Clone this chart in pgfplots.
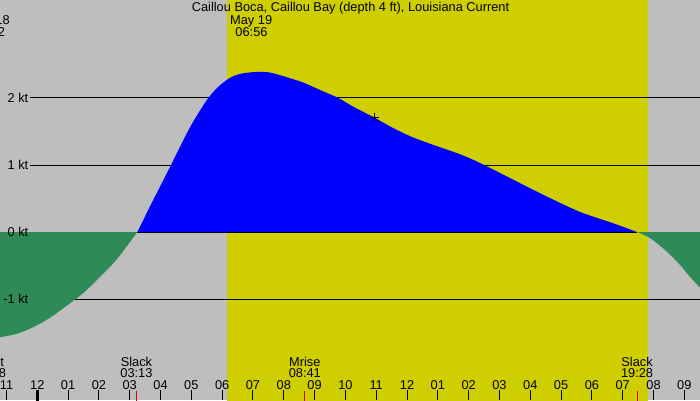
\documentclass[border=0pt]{standalone}
\usepackage{pgfplots}
\pgfplotsset{compat=1.18}
\usepackage{fontspec}
\setmainfont{Liberation Sans}

\definecolor{bg}{RGB}{190,190,190}
\definecolor{day}{RGB}{206,206,0}
\definecolor{flood}{RGB}{0,0,255}
\definecolor{ebb}{RGB}{46,139,87}
\definecolor{evt}{RGB}{220,0,0}
\newcommand\lbl{\fontsize{12.8pt}{15pt}\selectfont}

\begin{document}
\lbl
\begin{tikzpicture}[font=\lbl]
\useasboundingbox (0,0) rectangle (700pt,400pt);
\clip (0,0) rectangle (700pt,400pt);
\begin{axis}[
  at={(0,0)}, anchor=south west,
  scale only axis, width=700pt, height=400pt,
  xmin=-1.2107, xmax=21.509, ymin=-2.5075, ymax=3.4627,
  axis background/.style={fill=bg},
  axis line style={draw=none},
  axis on top, clip=false,
  ytick=\empty,
  xtick={-1,0,...,21},
  xticklabels={11,12,01,02,03,04,05,06,07,08,09,10,11,12,01,02,03,04,05,06,07,08,09},
  xtick pos=left, tick align=inside,
  major tick length=10pt,
  tick style={black, line width=1pt},
  every tick label/.append style={font=\lbl},
  xticklabel style={anchor=base, yshift=10.7pt},
]
% daylight
\addplot[draw=none, fill=day] coordinates {(6.157,-3) (6.157,4) (19.805,4) (19.805,-3)} -- cycle;

% kt lines
\addplot[black, line width=1pt] coordinates {(-0.237,2) (21.6,2)};
\addplot[black, line width=1pt] coordinates {(-0.237,1) (21.6,1)};
\addplot[black, line width=1pt] coordinates {(-0.237,-1) (21.6,-1)};

% flood
\addplot[draw=none, fill=flood, smooth, tension=0.5] coordinates {
 (3.246,0) (3.765,0.48) (4.307,0.97) (4.739,1.37) (5.063,1.65) (5.550,2.0)
 (5.930,2.19) (6.254,2.30) (6.579,2.36) (7.121,2.39) (7.553,2.38) (8.095,2.31) (8.634,2.23)
 (9.176,2.12) (9.770,2.0) (10.256,1.87) (10.928,1.71) (11.555,1.55) (12.204,1.41)
 (12.853,1.30) (13.720,1.16) (14.368,1.03) (15.449,0.78) (16.533,0.53)
 (17.614,0.30) (18.695,0.13) (19.464,0)} \closedcycle;
\addplot[black, line width=1pt] coordinates {(3.246,0) (19.464,0)};

% ebb
\addplot[draw=none, fill=ebb, smooth, tension=0.5] coordinates {
 (-1.60,-1.59) (-1.211,-1.57) (-0.669,-1.52) (-0.130,-1.42) (0.412,-1.28)
 (0.954,-1.10) (1.493,-0.91) (2.035,-0.67) (2.577,-0.41) (3.246,0)} \closedcycle;
\addplot[draw=none, fill=ebb, smooth, tension=0.5] coordinates {
 (19.464,0) (19.886,-0.09) (20.428,-0.29) (20.860,-0.49) (21.184,-0.67)
 (21.509,-0.83) (21.60,-0.88)} \closedcycle;

% marker
\addplot[black, only marks, mark=+, mark size=4.5pt, line width=1pt] coordinates {(10.928,1.71)};

% event ticks
\addplot[black, line width=3pt] coordinates {(0,-2.6) (0,-2.358)};
\addplot[evt, line width=1pt] coordinates {(3.2167,-2.6) (3.2167,-2.369)};
\addplot[evt, line width=1pt] coordinates {(8.6833,-2.6) (8.6833,-2.369)};
\addplot[evt, line width=1pt] coordinates {(19.4667,-2.6) (19.4667,-2.369)};

% texts
\tikzset{txt/.style={inner sep=0pt, font=\lbl}}
\node[txt, anchor=base] at (axis cs:10.166,3.288) {Caillou Boca, Caillou Bay (depth 4 ft), Louisiana Current};
\node[txt, anchor=base west] at (axis cs:6.254,3.090) {May 19};
\node[txt, anchor=base west] at (axis cs:6.426,2.925) {06:56};
\node[txt, anchor=base west] at (axis cs:-2.266,3.090) {May 18};
\node[txt, anchor=base west] at (axis cs:-2.094,2.925) {22:22};

\node[txt, anchor=base] at (axis cs:-1.535,-2.010) {Mset};
\node[txt, anchor=base] at (axis cs:-1.535,-2.175) {22:28};
\node[txt, anchor=base] at (axis cs:3.2167,-2.010) {Slack};
\node[txt, anchor=base] at (axis cs:3.2167,-2.175) {03:13};
\node[txt, anchor=base] at (axis cs:8.6833,-2.010) {Mrise};
\node[txt, anchor=base] at (axis cs:8.6833,-2.175) {08:41};
\node[txt, anchor=base] at (axis cs:19.4667,-2.010) {Slack};
\node[txt, anchor=base] at (axis cs:19.4667,-2.175) {19:28};

\node[txt, anchor=east] at (axis cs:-0.2856,2) {2 kt};
\node[txt, anchor=east] at (axis cs:-0.2856,1) {1 kt};
\node[txt, anchor=east] at (axis cs:-0.2856,0) {0 kt};
\node[txt, anchor=east] at (axis cs:-0.2856,-1) {-1 kt};
\end{axis}
\end{tikzpicture}
\end{document}
